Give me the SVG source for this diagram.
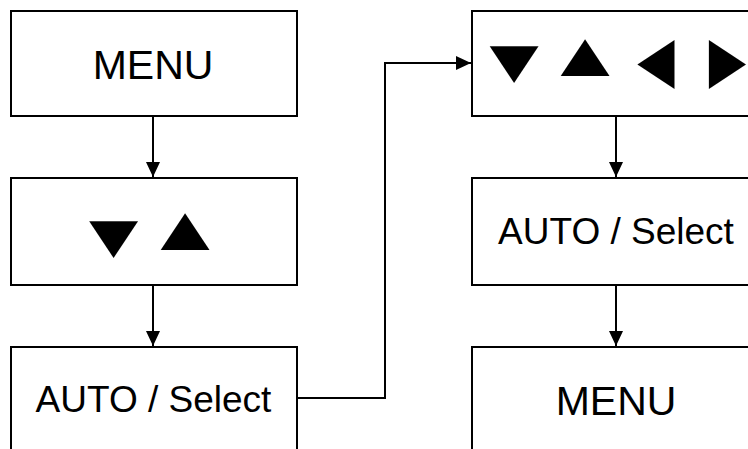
<svg xmlns="http://www.w3.org/2000/svg" width="748" height="449" viewBox="0 0 748 449">
<defs>
<marker id="ah" markerWidth="15" markerHeight="14" refX="15" refY="7" orient="auto" markerUnits="userSpaceOnUse">
<path d="M0,0 L15,7 L0,14 Z" fill="#000"/>
</marker>
</defs>
<style>
.box{fill:#fff;stroke:#000;stroke-width:2}
.lbl{font-family:"Liberation Sans",Arial,sans-serif;fill:#000;text-anchor:middle}
.sym{font-family:"DejaVu Sans",sans-serif;fill:#000;text-anchor:middle;font-size:64px}
.con{fill:none;stroke:#000;stroke-width:2}
</style>
<rect width="748" height="449" fill="#fff"/>
<g id="connectors">
<path class="con" d="M153,116 V177" marker-end="url(#ah)"/>
<path class="con" d="M153,285 V346" marker-end="url(#ah)"/>
<path class="con" d="M297,398 H385 V63 H471" marker-end="url(#ah)"/>
<path class="con" d="M616,116 V177" marker-end="url(#ah)"/>
<path class="con" d="M616,273 V346" marker-end="url(#ah)"/>
</g>
<g id="n1">
<rect class="box" x="11" y="11" width="286" height="105"/>
<text class="lbl" x="153" y="79" font-size="41">MENU</text>
</g>
<g id="n2">
<rect class="box" x="11" y="178" width="286" height="107"/>
<text class="sym" transform="translate(113.5,251.7) scale(1,0.75)">▼</text>
<text class="sym" transform="translate(185,244.2) scale(1,0.75)">▲</text>
</g>
<g id="n3">
<rect class="box" x="11" y="347" width="286" height="120"/>
<text class="lbl" x="153.5" y="412" font-size="37">AUTO / Select</text>
</g>
<g id="n4">
<rect class="box" x="472" y="11" width="290" height="105"/>
<text class="sym" transform="translate(514,76.7) scale(1,0.75)">▼</text>
<text class="sym" transform="translate(585,70.2) scale(1,0.75)">▲</text>
<text class="sym" transform="translate(656,81.3) scale(0.76,1)">◀</text>
<text class="sym" transform="translate(727.5,81.3) scale(0.76,1)">▶</text>
</g>
<g id="n5">
<rect class="box" x="472" y="178" width="290" height="107"/>
<text class="lbl" x="616" y="244" font-size="37">AUTO / Select</text>
</g>
<g id="n6">
<rect class="box" x="472" y="347" width="290" height="120"/>
<text class="lbl" x="616" y="415" font-size="41">MENU</text>
</g>
</svg>
